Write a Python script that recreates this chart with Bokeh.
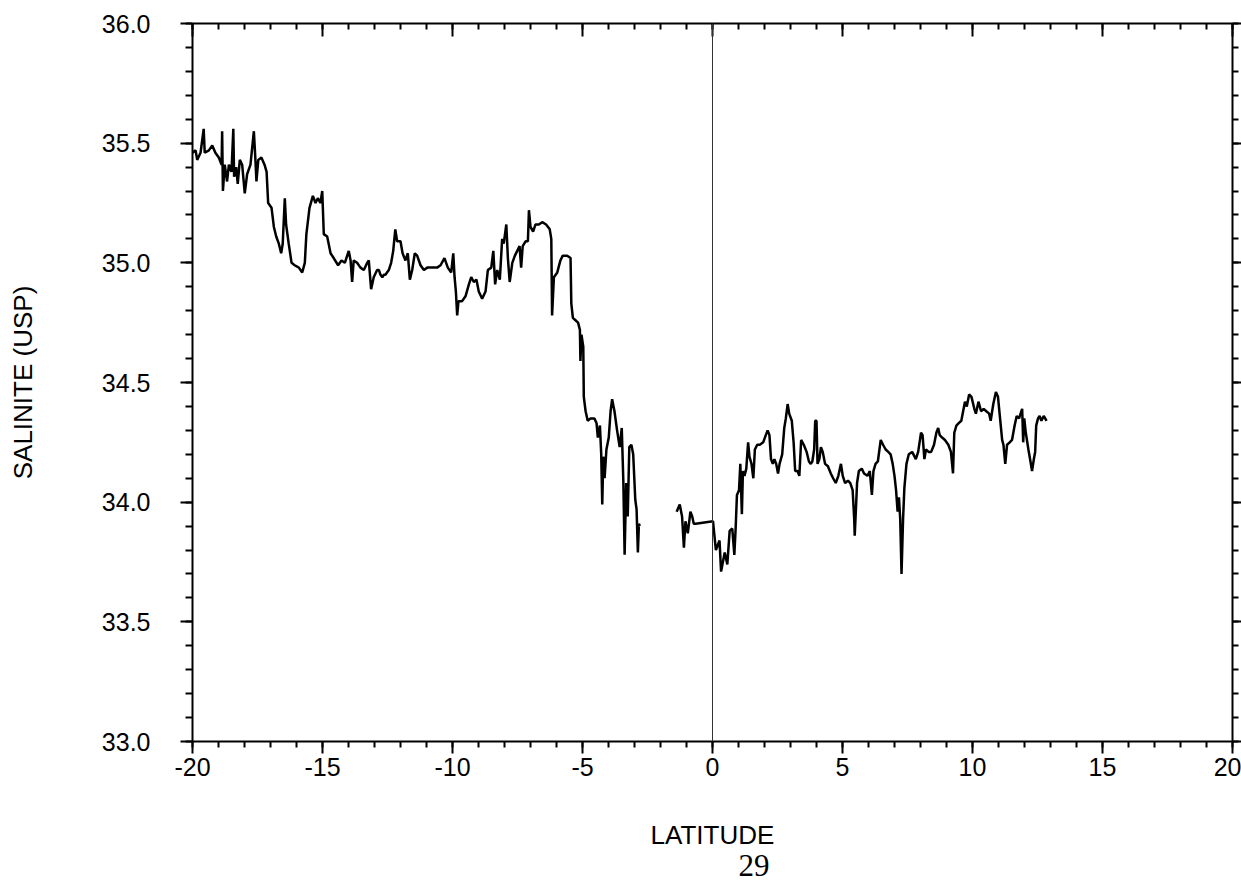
from bokeh.plotting import figure
from bokeh.models import (Range1d, LinearAxis, FixedTicker, PrintfTickFormatter, Span, Title,
                          CustomJSTickFormatter)
from bokeh.embed import file_html
from bokeh.resources import INLINE

# ---- data ----
x_major = [-20, -15, -10, -5, 0, 5, 10, 15, 20]
x_minor = [-20, -19, -18, -17, -16, -15, -14, -13, -12, -11, -10, -9, -8, -7, -6, -5, -4, -3, -2, -1,
           0, 1, 2, 3, 4, 5, 6, 7, 8, 9, 10, 11, 12, 13, 14, 15, 16, 17, 18, 19, 20]
y_major = [33.0, 33.5, 34.0, 34.5, 35.0, 35.5, 36.0]
y_minor = [33.0, 33.1, 33.2, 33.3, 33.4, 33.5, 33.6, 33.7, 33.8, 33.9, 34.0, 34.1, 34.2, 34.3, 34.4, 34.5,
           34.6, 34.7, 34.8, 34.9, 35.0, 35.1, 35.2, 35.3, 35.4, 35.5, 35.6, 35.7, 35.8, 35.9, 36.0]

lat1 = [-20.0, -19.88, -19.82, -19.69, -19.57, -19.53, -19.37, -19.24, -19.12, -18.99,
        -18.88, -18.86, -18.83, -18.76, -18.67, -18.60, -18.50, -18.43, -18.40, -18.32,
        -18.26, -18.18, -18.09, -17.99, -17.90, -17.77, -17.64, -17.58, -17.54, -17.47,
        -17.35, -17.23, -17.15, -17.09, -16.96, -16.87, -16.78, -16.68, -16.59, -16.53,
        -16.45, -16.40, -16.30, -16.19, -16.07, -15.91, -15.78, -15.68, -15.62, -15.50,
        -15.37, -15.27, -15.18, -15.08, -15.01, -14.95, -14.82, -14.69, -14.57, -14.40,
        -14.27, -14.14, -13.99, -13.92, -13.86, -13.80, -13.67, -13.54, -13.41, -13.28,
        -13.22, -13.13, -13.03, -12.90, -12.83, -12.77, -12.70, -12.64, -12.58, -12.45,
        -12.36, -12.28, -12.20, -12.13, -12.00, -11.92, -11.81, -11.72, -11.64, -11.55,
        -11.45, -11.36, -11.23, -11.10, -10.97, -10.78, -10.59, -10.46, -10.31, -10.18,
        -10.05, -9.97, -9.92, -9.87, -9.82, -9.77, -9.63, -9.50, -9.37, -9.28,
        -9.18, -9.08, -8.99, -8.86, -8.73, -8.64, -8.51, -8.43, -8.36, -8.28,
        -8.18, -8.09, -8.03, -7.93, -7.87, -7.80, -7.70, -7.60, -7.51, -7.42,
        -7.36, -7.30, -7.19, -7.10, -7.06, -7.00, -6.90, -6.81, -6.68, -6.55,
        -6.40, -6.26, -6.20, -6.17, -6.10, -5.97, -5.85, -5.76, -5.59, -5.46,
        -5.43, -5.37, -5.27, -5.17, -5.10, -5.08, -5.04, -4.97, -4.95, -4.88,
        -4.80, -4.69, -4.54, -4.46, -4.41, -4.33, -4.28, -4.24, -4.20, -4.15,
        -4.08, -3.99, -3.92, -3.86, -3.77, -3.67, -3.57, -3.49, -3.43, -3.38,
        -3.32, -3.26, -3.20, -3.12, -3.05, -2.97, -2.92, -2.87, -2.83, -2.80]
sal1 = [35.46, 35.47, 35.43, 35.46, 35.56, 35.46, 35.47, 35.49, 35.46, 35.44,
        35.41, 35.55, 35.30, 35.41, 35.34, 35.41, 35.38, 35.56, 35.36, 35.40,
        35.33, 35.43, 35.41, 35.29, 35.37, 35.41, 35.55, 35.43, 35.34, 35.43,
        35.44, 35.41, 35.38, 35.25, 35.23, 35.15, 35.11, 35.08, 35.04, 35.08,
        35.27, 35.16, 35.08, 35.00, 34.99, 34.98, 34.96, 35.00, 35.12, 35.23,
        35.28, 35.25, 35.27, 35.25, 35.30, 35.12, 35.11, 35.04, 35.02, 34.99,
        35.01, 35.00, 35.05, 35.01, 34.92, 35.01, 35.00, 34.98, 34.97, 35.00,
        35.01, 34.89, 34.94, 34.97, 34.97, 34.95, 34.94, 34.95, 34.95, 34.97,
        35.00, 35.05, 35.14, 35.09, 35.09, 35.04, 35.01, 35.04, 34.93, 34.97,
        35.04, 35.03, 34.99, 34.97, 34.98, 34.98, 34.98, 34.99, 35.02, 34.98,
        34.96, 35.04, 34.94, 34.88, 34.78, 34.84, 34.84, 34.86, 34.91, 34.94,
        34.92, 34.93, 34.88, 34.85, 34.88, 34.97, 34.98, 35.05, 34.91, 34.97,
        34.93, 35.10, 35.08, 35.16, 35.02, 34.92, 35.00, 35.03, 35.05, 35.07,
        34.98, 35.07, 35.09, 35.09, 35.22, 35.15, 35.13, 35.16, 35.16, 35.17,
        35.16, 35.14, 35.10, 34.78, 34.94, 34.96, 35.01, 35.03, 35.03, 35.02,
        34.83, 34.77, 34.76, 34.75, 34.72, 34.59, 34.70, 34.65, 34.44, 34.38,
        34.34, 34.35, 34.35, 34.33, 34.27, 34.32, 34.20, 33.99, 34.19, 34.10,
        34.22, 34.27, 34.38, 34.43, 34.38, 34.30, 34.23, 34.31, 34.09, 33.78,
        34.08, 33.94, 34.23, 34.24, 34.20, 34.01, 33.97, 33.79, 33.91, 33.90]

lat2 = [-1.38, -1.26, -1.17, -1.10, -1.04, -0.95, -0.85, -0.78, -0.72, -0.65,
        0.02, 0.13, 0.27, 0.33, 0.47, 0.57, 0.66, 0.76, 0.84, 0.89,
        0.94, 1.02, 1.07, 1.13, 1.17, 1.23, 1.30, 1.37, 1.42, 1.50,
        1.57, 1.63, 1.72, 1.82, 1.95, 2.05, 2.12, 2.19, 2.25, 2.32,
        2.38, 2.45, 2.52, 2.58, 2.68, 2.76, 2.82, 2.89, 2.95, 3.05,
        3.12, 3.18, 3.27, 3.34, 3.41, 3.51, 3.62, 3.71, 3.78, 3.84,
        3.91, 3.95, 4.00, 4.04, 4.11, 4.17, 4.24, 4.33, 4.44, 4.55,
        4.64, 4.74, 4.84, 4.94, 5.01, 5.10, 5.21, 5.30, 5.39, 5.45,
        5.47, 5.52, 5.56, 5.63, 5.74, 5.83, 5.96, 6.05, 6.13, 6.19,
        6.27, 6.36, 6.47, 6.56, 6.66, 6.76, 6.85, 6.93, 7.00, 7.06,
        7.12, 7.17, 7.22, 7.27, 7.33, 7.38, 7.46, 7.55, 7.68, 7.82,
        7.91, 8.02, 8.08, 8.15, 8.21, 8.31, 8.41, 8.52, 8.61, 8.68,
        8.74, 8.83, 8.94, 9.07, 9.17, 9.25, 9.30, 9.38, 9.47, 9.57,
        9.64, 9.71, 9.78, 9.87, 9.96, 10.07, 10.13, 10.23, 10.33, 10.43,
        10.53, 10.64, 10.70, 10.80, 10.90, 10.98, 11.06, 11.14, 11.19, 11.26,
        11.33, 11.43, 11.52, 11.62, 11.70, 11.79, 11.85, 11.91, 11.95, 11.99,
        12.05, 12.15, 12.23, 12.29, 12.36, 12.41, 12.45, 12.52, 12.58, 12.65,
        12.74, 12.85]
sal2 = [33.96, 33.99, 33.94, 33.81, 33.92, 33.87, 33.96, 33.94, 33.91, 33.91,
        33.92, 33.80, 33.84, 33.71, 33.79, 33.74, 33.88, 33.89, 33.78, 33.89,
        34.03, 34.05, 34.16, 33.95, 34.13, 34.11, 34.14, 34.25, 34.19, 34.16,
        34.10, 34.22, 34.24, 34.24, 34.25, 34.28, 34.30, 34.28, 34.18, 34.16,
        34.18, 34.16, 34.12, 34.16, 34.20, 34.31, 34.35, 34.41, 34.37, 34.34,
        34.25, 34.13, 34.13, 34.11, 34.26, 34.24, 34.21, 34.17, 34.16, 34.17,
        34.22, 34.34, 34.34, 34.16, 34.18, 34.23, 34.21, 34.16, 34.15, 34.12,
        34.10, 34.08, 34.11, 34.16, 34.11, 34.08, 34.09, 34.08, 34.05, 33.93,
        33.86, 33.98, 34.08, 34.13, 34.14, 34.12, 34.11, 34.13, 34.03, 34.13,
        34.16, 34.17, 34.26, 34.24, 34.22, 34.21, 34.20, 34.16, 34.11, 34.05,
        33.96, 34.02, 33.93, 33.70, 33.93, 34.06, 34.16, 34.20, 34.21, 34.18,
        34.21, 34.29, 34.28, 34.18, 34.22, 34.21, 34.21, 34.24, 34.29, 34.31,
        34.28, 34.27, 34.26, 34.24, 34.21, 34.12, 34.29, 34.32, 34.33, 34.34,
        34.38, 34.42, 34.40, 34.45, 34.44, 34.39, 34.37, 34.42, 34.38, 34.39,
        34.38, 34.37, 34.34, 34.41, 34.46, 34.44, 34.35, 34.26, 34.24, 34.16,
        34.24, 34.25, 34.26, 34.32, 34.36, 34.35, 34.37, 34.39, 34.25, 34.35,
        34.29, 34.22, 34.17, 34.13, 34.18, 34.21, 34.32, 34.35, 34.36, 34.34,
        34.36, 34.34]

equator = 0
page_number = "29"

# ---- figure ----
FONT = "Liberation Sans"
p = figure(frame_width=1040, frame_height=718, x_range=Range1d(-20, 20), y_range=Range1d(33, 36),
           output_backend="svg", toolbar_location=None,
           x_axis_location=None, y_axis_location=None,
           min_border_left=192, min_border_right=9, min_border_top=23, min_border_bottom=140)
p.grid.visible = False
p.outline_line_color = None
p.background_fill_color = "white"
p.border_fill_color = "white"


def style(ax, tin, tout, min_in, min_out):
    ax.axis_line_color = "black"
    ax.axis_line_width = 2
    ax.major_tick_line_color = "black"
    ax.major_tick_line_width = 2
    ax.minor_tick_line_color = "black"
    ax.minor_tick_line_width = 2
    ax.major_tick_in = tin
    ax.major_tick_out = tout
    ax.minor_tick_in = min_in
    ax.minor_tick_out = min_out
    ax.major_label_text_font = FONT
    ax.major_label_text_font_size = "25px"
    ax.major_label_text_color = "black"
    ax.axis_label_text_font = FONT
    ax.axis_label_text_font_size = "26px"
    ax.axis_label_text_font_style = "normal"
    ax.axis_label_text_color = "black"


xt = FixedTicker(ticks=x_major, minor_ticks=x_minor)
yt = FixedTicker(ticks=y_major, minor_ticks=y_minor)
blank = CustomJSTickFormatter(code="return '';")

xb = LinearAxis(ticker=xt, formatter=PrintfTickFormatter(format="%d"), axis_label="LATITUDE")
style(xb, 0, 12, 0, 6)
xb.major_label_standoff = 4
xb.axis_label_standoff = 41
p.add_layout(xb, "below")

xtop = LinearAxis(ticker=xt, formatter=blank)
style(xtop, 13, 0, 6, 0)
xtop.major_label_standoff = 0
p.add_layout(xtop, "above")

yl = LinearAxis(ticker=yt, formatter=PrintfTickFormatter(format="%.1f"), axis_label="SALINITE (USP)")
style(yl, 0, 12, 0, 7)
yl.major_label_standoff = 30
yl.axis_label_standoff = 61
p.add_layout(yl, "left")

yr = LinearAxis(ticker=yt, formatter=blank)
style(yr, 0, 9, 0, 6)
yr.major_label_standoff = 0
p.add_layout(yr, "right")

p.add_layout(Span(location=equator, dimension="height", line_color="#333333", line_width=1))

p.line(lat1, sal1, line_color="black", line_width=2.5)
p.line(lat2, sal2, line_color="black", line_width=2.5)

p.add_layout(Title(text=page_number, align="left", offset=546, standoff=0,
                   text_font="Liberation Serif", text_font_size="31px",
                   text_font_style="normal", text_color="black"), "below")

open("out.html", "w").write(file_html(p, INLINE))
